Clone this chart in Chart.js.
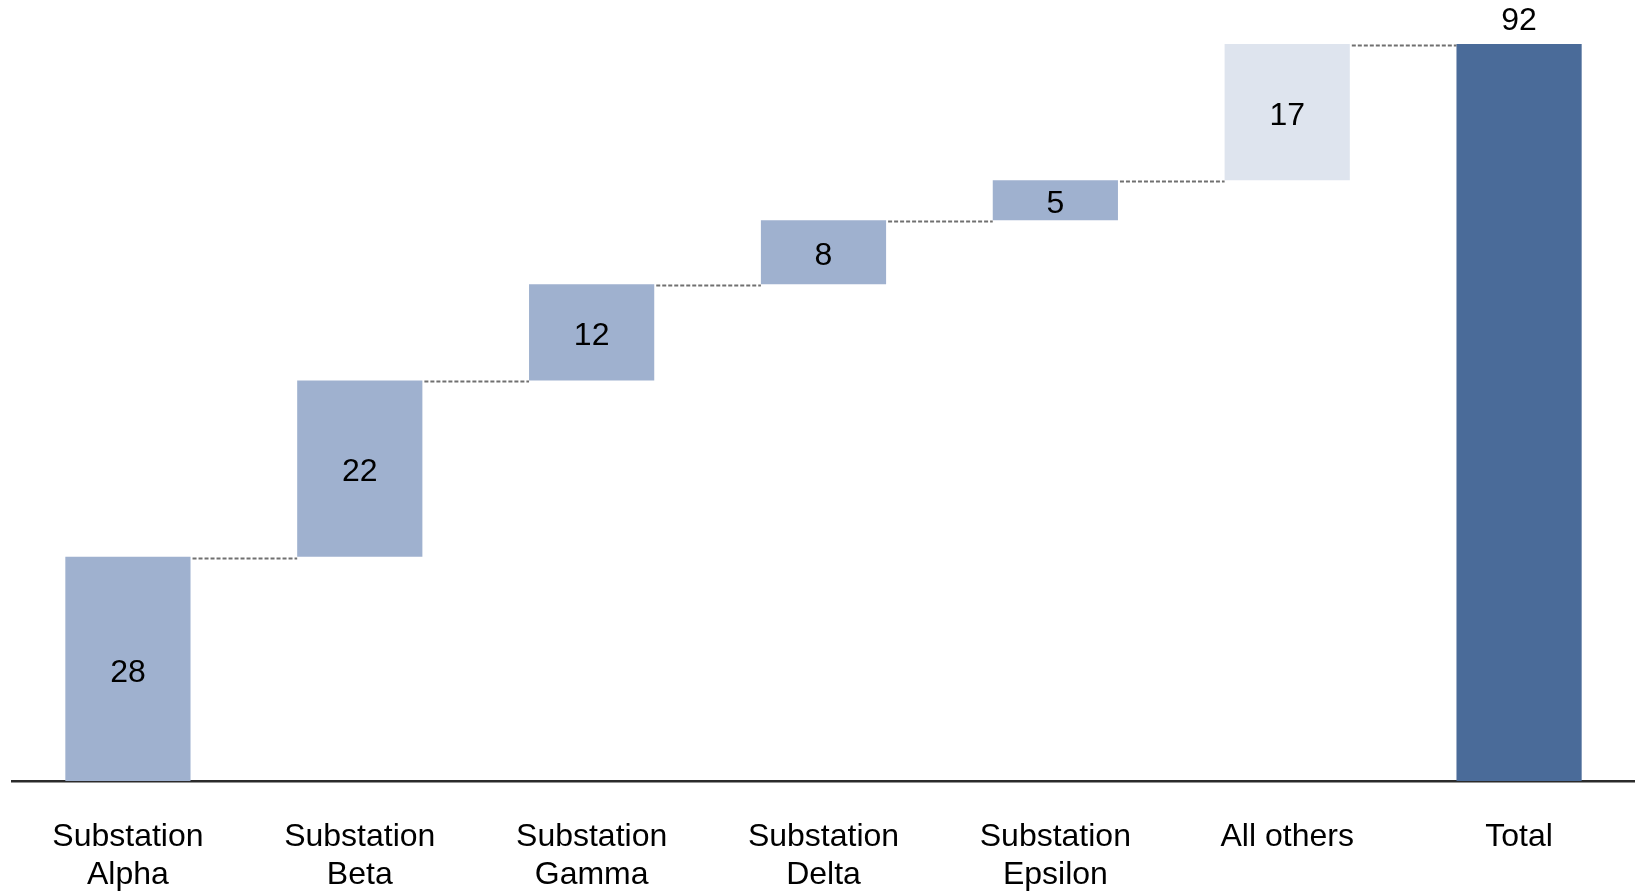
<!DOCTYPE html>
<html>
<head>
<meta charset="utf-8">
<style>
  html, body { margin: 0; padding: 0; background: #ffffff; }
  #wrap { width: 1635px; height: 893px; position: relative; }
</style>
<script src="https://cdn.jsdelivr.net/npm/chart.js@4.4.1/dist/chart.umd.min.js"></script>
</head>
<body>
<div id="wrap"><canvas id="chart"></canvas></div>
<script>
// Category labels (two lines where the name wraps)
const categories = [
  ["Substation", "Alpha"],
  ["Substation", "Beta"],
  ["Substation", "Gamma"],
  ["Substation", "Delta"],
  ["Substation", "Epsilon"],
  ["All others"],
  ["Total"]
];

// Contribution of each step, then the grand total
const increments = [28, 22, 12, 8, 5, 17];
const totalValue = 92;

// Fill colours: named substations, the "All others" step, the total bar
const stepColor = "#9FB1CF";
const otherColor = "#DEE4EE";
const totalColor = "#4A6B99";

// Build floating [start, end] ranges for the waterfall
const ranges = [];
let running = 0;
increments.forEach(v => {
  ranges.push([running, running + v]);
  running += v;
});
ranges.push([0, totalValue]);

const labelValues = increments.concat([totalValue]);
const colors = increments.map((_, i) => i === increments.length - 1 ? otherColor : stepColor).concat([totalColor]);

const FONT = "'Liberation Sans', Arial, sans-serif";

// Dashed connectors between consecutive bars and the value labels
const waterfallDecor = {
  id: "waterfallDecor",
  afterDatasetsDraw(chart) {
    const ctx = chart.ctx;
    const meta = chart.getDatasetMeta(0);
    const yScale = chart.scales.y;
    const bars = meta.data;

    ctx.save();
    ctx.strokeStyle = "#707070";
    ctx.lineWidth = 1.8;
    ctx.setLineDash([4, 2]);
    for (let i = 0; i < bars.length - 1; i++) {
      const level = ranges[i][1];
      const y = Math.round(yScale.getPixelForValue(level)) + 1.5;
      const x1 = bars[i].x + bars[i].width / 2 + 2;
      const x2 = bars[i + 1].x - bars[i + 1].width / 2;
      ctx.beginPath();
      ctx.moveTo(x1, y);
      ctx.lineTo(x2, y);
      ctx.stroke();
    }
    ctx.restore();

    ctx.save();
    ctx.fillStyle = "#000000";
    ctx.font = "32px " + FONT;
    ctx.textAlign = "center";
    ctx.textBaseline = "middle";
    bars.forEach((bar, i) => {
      const text = String(labelValues[i]);
      if (i === bars.length - 1) {
        const top = yScale.getPixelForValue(ranges[i][1]);
        ctx.fillText(text, bar.x, top - 23);
      } else {
        const yTop = yScale.getPixelForValue(ranges[i][1]);
        const yBot = yScale.getPixelForValue(ranges[i][0]);
        ctx.fillText(text, bar.x, (yTop + yBot) / 2 + 4);
      }
    });
    ctx.restore();
  }
};

new Chart(document.getElementById("chart"), {
  type: "bar",
  data: {
    labels: categories,
    datasets: [{
      data: ranges,
      backgroundColor: colors,
      borderWidth: 0,
      categoryPercentage: 1.0,
      barPercentage: 0.54
    }]
  },
  options: {
    responsive: true,
    maintainAspectRatio: false,
    animation: false,
    layout: { padding: { left: 12, right: 0, top: 0, bottom: 0 } },
    plugins: {
      legend: { display: false },
      tooltip: { enabled: false }
    },
    scales: {
      x: {
        grid: { display: false, drawTicks: false },
        border: { display: true, color: "#2B2B2B", width: 2.5 },
        ticks: {
          color: "#000000",
          padding: 37,
          maxRotation: 0,
          autoSkip: false,
          font: { family: FONT, size: 32, lineHeight: 1.2 }
        },
        afterFit(scale) { scale.height = 112; }
      },
      y: {
        display: false,
        min: 0,
        max: 97.5
      }
    }
  },
  plugins: [waterfallDecor]
});
</script>
</body>
</html>
